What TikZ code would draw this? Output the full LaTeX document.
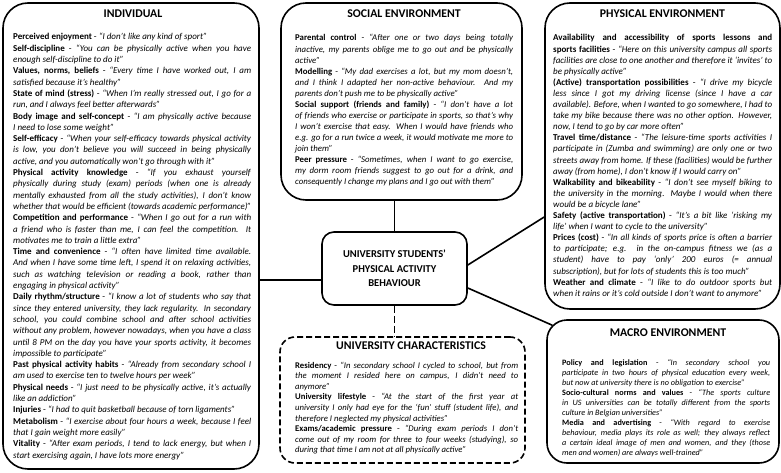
\documentclass[tikz,border=0pt]{standalone}
\usepackage{graphicx}
\usepackage{fontspec}
\setmainfont{Carlito}
\newsavebox\lbox
\newcommand\JL[1]{\sbox\lbox{#1}\ifdim\wd\lbox>\hsize\hbox{\resizebox{\hsize}{\ht\lbox}{\usebox\lbox}}\else\hbox to\hsize{#1}\fi}
\newcommand\EL[1]{\sbox\lbox{#1}\ifdim\wd\lbox>\hsize\hbox{\resizebox{\hsize}{\ht\lbox}{\usebox\lbox}}\else\hbox{#1}\fi}
\newcommand\hd[1]{\textbf{#1}}
\newcommand\qt[1]{\textit{#1}}
\begin{document}
\begin{tikzpicture}[x=1pt,y=-1pt,
  box/.style={draw,line width=1.6pt,rounded corners=#1,inner sep=0pt},
  box/.default=25pt,
  dbox/.style={box=#1,dash pattern=on 6pt off 3pt},
  dbox/.default=15pt,
  ttl/.style={font=\bfseries\fontsize{11.8}{13}\selectfont,inner sep=0pt},
  txt/.style={inner sep=0pt,anchor=base west},
  conn/.style={line width=1.6pt},
  dconn/.style={line width=1.6pt,dash pattern=on 7pt off 3pt}]
\useasboundingbox[fill=white] (0,0) rectangle (781,473);

% boxes
\node[box=25pt,minimum width=256pt,minimum height=466pt] (indiv) at (131,236) {};
\node[box=25pt,minimum width=241pt,minimum height=197pt] (social) at (401.5,101.5) {};
\node[box=25pt,minimum width=235pt,minimum height=306pt] (physical) at (662.5,156) {};
\node[box=20pt,minimum width=232pt,minimum height=143pt] (macro) at (663,391.5) {};
\node[dbox=15pt,minimum width=245pt,minimum height=126pt] (univ) at (402.5,400) {};
\node[box=12pt,minimum width=145pt,minimum height=73pt,align=center,
      font=\bfseries\fontsize{10.5}{14.5}\selectfont] (center) at (394.5,268.5)
      {UNIVERSITY STUDENTS’\\PHYSICAL ACTIVITY\\BEHAVIOUR};

% titles
\node[ttl] (tindiv) at (133,13.5) {INDIVIDUAL};
\node[ttl] (tsocial) at (404,13.5) {SOCIAL ENVIRONMENT};
\node[ttl] (tphys) at (662.5,13.5) {PHYSICAL ENVIRONMENT};
\node[ttl] (tmacro) at (668,333) {MACRO ENVIRONMENT};
\node[ttl] (tuniv) at (411,346) {UNIVERSITY CHARACTERISTICS};

% connectors
\draw[conn] (center.north) -- (center.north |- social.south);
\draw[dconn] (center.south) -- (center.south |- univ.north);
\draw[conn] ([yshift=-11.5pt]center.west) -- ([yshift=-11.5pt]center.west -| indiv.east);
\draw[conn] ([yshift=3.5pt]center.east) -- ([yshift=-61pt]physical.west);
\draw[conn] ([yshift=-19.5pt]center.east) -- ([xshift=6pt,yshift=-6pt]macro.north west);

% individual text
\node[txt] (xindiv) at (13,40) {\fontsize{9}{11.3}\selectfont\vtop{\hsize=238pt
\EL{\hd{Perceived enjoyment} - \qt{“I don’t like any kind of sport”}}
\JL{\hd{Self-discipline} - \qt{“You can be physically active when you have}}
\EL{\qt{enough self-discipline to do it”}}
\JL{\hd{Values, norms, beliefs} - \qt{“Every time I have worked out, I am}}
\EL{\qt{satisfied because it’s healthy”}}
\JL{\hd{State of mind (stress)} - \qt{“When I’m really stressed out, I go for a}}
\EL{\qt{run, and I always feel better afterwards”}}
\JL{\hd{Body image and self-concept} - \qt{“I am physically active because}}
\EL{\qt{I need to lose some weight”}}
\JL{\hd{Self-efficacy} - \qt{“When your self-efficacy towards physical activity}}
\JL{\qt{is low, you don’t believe you will succeed in being physically}}
\EL{\qt{active, and you automatically won’t go through with it”}}
\JL{\hd{Physical activity knowledge} - \qt{“If you exhaust yourself}}
\JL{\qt{physically during study (exam) periods (when one is already}}
\JL{\qt{mentally exhausted from all the study activities), I don’t know}}
\JL{\qt{whether that would be efficient (towards academic performance)”}}
\JL{\hd{Competition and performance} - \qt{“When I go out for a run with}}
\JL{\qt{a friend who is faster than me, I can feel the competition. It}}
\EL{\qt{motivates me to train a little extra”}}
\JL{\hd{Time and convenience} - \qt{“I often have limited time available.}}
\JL{\qt{And when I have some time left, I spend it on relaxing activities,}}
\JL{\qt{such as watching television or reading a book, rather than}}
\EL{\qt{engaging in physical activity”}}
\JL{\hd{Daily rhythm/structure} - \qt{“I know a lot of students who say that}}
\JL{\qt{since they entered university, they lack regularity. In secondary}}
\JL{\qt{school, you could combine school and after school activities}}
\JL{\qt{without any problem, however nowadays, when you have a class}}
\JL{\qt{until 8 PM on the day you have your sports activity, it becomes}}
\EL{\qt{impossible to participate”}}
\JL{\hd{Past physical activity habits} - \qt{“Already from secondary school I}}
\EL{\qt{am used to exercise ten to twelve hours per week”}}
\JL{\hd{Physical needs} - \qt{“I just need to be physically active, it’s actually}}
\EL{\qt{like an addiction”}}
\EL{\hd{Injuries} - \qt{“I had to quit basketball because of torn ligaments”}}
\JL{\hd{Metabolism} - \qt{“I exercise about four hours a week, because I feel}}
\EL{\qt{that I gain weight more easily”}}
\JL{\hd{Vitality} - \qt{“After exam periods, I tend to lack energy, but when I}}
\EL{\qt{start exercising again, I have lots more energy”}}
}};

% social text
\node[txt] (xsocial) at (295,41) {\fontsize{8.8}{11.05}\selectfont\vtop{\hsize=218pt
\JL{\hd{Parental control} - \qt{“After one or two days being totally}}
\JL{\qt{inactive, my parents oblige me to go out and be physically}}
\EL{\qt{active”}}
\JL{\hd{Modelling} - \qt{“My dad exercises a lot, but my mom doesn’t,}}
\JL{\qt{and I think I adapted her non-active behaviour. And my}}
\EL{\qt{parents don’t push me to be physically active”}}
\JL{\hd{Social support (friends and family)} - \qt{“I don’t have a lot}}
\JL{\qt{of friends who exercise or participate in sports, so that’s why}}
\JL{\qt{I won’t exercise that easy. When I would have friends who}}
\JL{\qt{e.g. go for a run twice a week, it would motivate me more to}}
\EL{\qt{join them”}}
\JL{\hd{Peer pressure} - \qt{“Sometimes, when I want to go exercise,}}
\JL{\qt{my dorm room friends suggest to go out for a drink, and}}
\EL{\qt{consequently I change my plans and I go out with them”}}
}};

% physical text
\node[txt] (xphys) at (553,41) {\fontsize{9}{11.1}\selectfont\vtop{\hsize=219pt
\JL{\hd{Availability and accessibility of sports lessons and}}
\JL{\hd{sports facilities} - \qt{“Here on this university campus all sports}}
\JL{\qt{facilities are close to one another and therefore it ‘invites’ to}}
\EL{\qt{be physically active”}}
\JL{\hd{(Active) transportation possibilities} - \qt{“I drive my bicycle}}
\JL{\qt{less since I got my driving license (since I have a car}}
\JL{\qt{available). Before, when I wanted to go somewhere, I had to}}
\JL{\qt{take my bike because there was no other option. However,}}
\EL{\qt{now, I tend to go by car more often”}}
\JL{\hd{Travel time/distance} - \qt{“The leisure-time sports activities I}}
\JL{\qt{participate in (Zumba and swimming) are only one or two}}
\JL{\qt{streets away from home. If these (facilities) would be further}}
\EL{\qt{away (from home), I don’t know if I would carry on”}}
\JL{\hd{Walkability and bikeability} - \qt{“I don’t see myself biking to}}
\JL{\qt{the university in the morning. Maybe I would when there}}
\EL{\qt{would be a bicycle lane”}}
\JL{\hd{Safety (active transportation)} - \qt{“It’s a bit like ‘risking my}}
\EL{\qt{life’ when I want to cycle to the university”}}
\JL{\hd{Prices (cost)} - \qt{“In all kinds of sports price is often a barrier}}
\JL{\qt{to participate; e.g. in the on-campus fitness we (as a}}
\JL{\qt{student) have to pay ‘only’ 200 euros (= annual}}
\EL{\qt{subscription), but for lots of students this is too much”}}
\JL{\hd{Weather and climate} - \qt{“I like to do outdoor sports but}}
\EL{\qt{when it rains or it’s cold outside I don’t want to anymore”}}
}};

% university text
\node[txt] (xuniv) at (295,368) {\fontsize{8.7}{10.6}\selectfont\vtop{\hsize=223pt
\JL{\hd{Residency} - \qt{“In secondary school I cycled to school, but from}}
\JL{\qt{the moment I resided here on campus, I didn’t need to}}
\EL{\qt{anymore”}}
\JL{\hd{University lifestyle} - \qt{“At the start of the first year at}}
\JL{\qt{university I only had eye for the ‘fun’ stuff (student life), and}}
\EL{\qt{therefore I neglected my physical activities”}}
\JL{\hd{Exams/academic pressure} - \qt{“During exam periods I don’t}}
\JL{\qt{come out of my room for three to four weeks (studying), so}}
\EL{\qt{during that time I am not at all physically active”}}
}};

% macro text
\node[txt] (xmacro) at (562,365) {\fontsize{8.2}{10.1}\selectfont\vtop{\hsize=208pt
\JL{\hd{Policy and legislation} - \qt{“In secondary school you}}
\JL{\qt{participate in two hours of physical education every week,}}
\EL{\qt{but now at university there is no obligation to exercise”}}
\JL{\hd{Socio-cultural norms and values} - \qt{“The sports culture}}
\JL{\qt{in US universities can be totally different from the sports}}
\EL{\qt{culture in Belgian universities”}}
\JL{\hd{Media and advertising} - \qt{“With regard to exercise}}
\JL{\qt{behaviour, media plays its role as well; they always reflect}}
\JL{\qt{a certain ideal image of men and women, and they (those}}
\EL{\qt{men and women) are always well-trained”}}
}};
\end{tikzpicture}
\end{document}
